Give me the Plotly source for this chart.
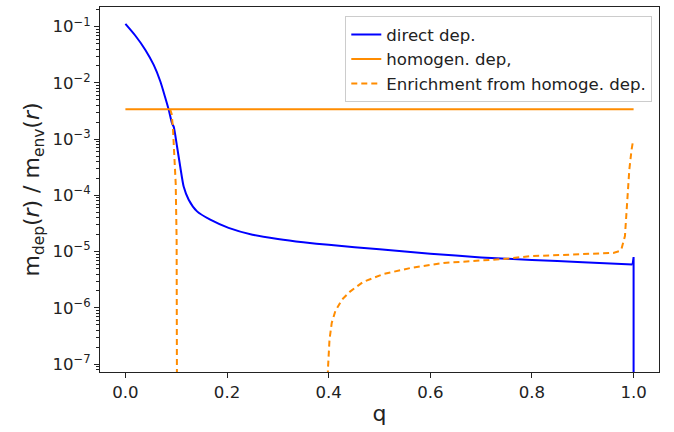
import plotly.graph_objects as go

# direct deposition (smooth part)
q_direct = [0.0, 0.0197, 0.0393, 0.0557, 0.0688, 0.0786, 0.085, 0.0918, 0.095, 0.1016,
            0.108, 0.1146, 0.1245, 0.141, 0.167, 0.203, 0.25, 0.3, 0.35, 0.4, 0.5,
            0.6, 0.7, 0.8, 0.9, 0.998]
m_direct = [0.112, 0.069, 0.0386, 0.0209, 0.0106, 0.0054, 0.0034, 0.0019, 1.67e-3, 7.4e-4,
            3.2e-4, 1.44e-4, 8.4e-5, 5.2e-5, 3.7e-5, 2.65e-5, 2.0e-5, 1.68e-5, 1.47e-5,
            1.32e-5, 1.1e-5, 9.2e-6, 7.9e-6, 7.1e-6, 6.5e-6, 5.9e-6]
# direct deposition (edge drop at q = 1)
q_direct_edge = [0.998, 1.0, 1.0]
m_direct_edge = [5.9e-6, 8.0e-6, 1e-10]

# homogeneous deposition
q_homog = [0.0, 1.0]
m_homog = [3.4e-3, 3.4e-3]

# enrichment from homogeneous deposition (two branches)
q_enrich = [0.088, 0.091, 0.0935, 0.0963, 0.099, 0.1008, 0.1015, 0.1018, None,
            0.3975, 0.3985, 0.4016, 0.406, 0.413, 0.426, 0.442, 0.468, 0.508, 0.56, 0.626,
            0.691, 0.744, 0.796, 0.894, 0.96, 0.972, 0.976, 0.983, 0.9876, 0.9915, 0.996,
            0.9993]
m_enrich = [3.4e-3, 2.8e-3, 1.6e-3, 5e-4, 1.6e-4, 1.6e-5, 1e-6, 1e-9, None,
            1e-9, 8e-8, 2.7e-7, 5.4e-7, 8.7e-7, 1.4e-6, 1.95e-6, 2.9e-6, 4.0e-6, 5.1e-6,
            6.3e-6, 6.9e-6, 7.4e-6, 8.3e-6, 9.1e-6, 9.5e-6, 1.02e-5, 1.1e-5, 1.9e-5, 7.2e-5,
            2.8e-4, 6.5e-4, 9.8e-4]

x_ticks = [0.0, 0.2, 0.4, 0.6, 0.8, 1.0]
x_ticklabels = ["0.0", "0.2", "0.4", "0.6", "0.8", "1.0"]
y_ticks = [1e-7, 1e-6, 1e-5, 1e-4, 1e-3, 1e-2, 1e-1]
y_ticklabels = ["10<sup>\u22127</sup>", "10<sup>\u22126</sup>", "10<sup>\u22125</sup>",
                "10<sup>\u22124</sup>", "10<sup>\u22123</sup>", "10<sup>\u22122</sup>",
                "10<sup>\u22121</sup>"]

FONT = "DejaVu Sans"

fig = go.Figure()
fig.add_trace(go.Scatter(x=q_direct, y=m_direct, mode="lines", name="direct dep.",
                         legendgroup="direct",
                         line=dict(color="#0000ff", width=2, shape="spline", smoothing=0.6)))
fig.add_trace(go.Scatter(x=q_direct_edge, y=m_direct_edge, mode="lines", name="direct dep.",
                         legendgroup="direct", showlegend=False,
                         line=dict(color="#0000ff", width=2)))
fig.add_trace(go.Scatter(x=q_homog, y=m_homog, mode="lines", name="homogen. dep,",
                         line=dict(color="#ff8c00", width=2)))
fig.add_trace(go.Scatter(x=q_enrich, y=m_enrich, mode="lines",
                         name="Enrichment from homoge. dep.", connectgaps=False,
                         line=dict(color="#ff8c00", width=2, dash="6px,4px")))

fig.update_layout(
    width=674, height=432,
    margin=dict(l=100, r=15, t=7, b=60),
    paper_bgcolor="white", plot_bgcolor="white",
    font=dict(family=FONT, size=16.6, color="#222222"),
    showlegend=True,
    legend=dict(x=0.988, y=0.975, xanchor="right", yanchor="top",
                bgcolor="rgba(255,255,255,0.8)", bordercolor="#cccccc", borderwidth=1,
                font=dict(family=FONT, size=16.6, color="#222222"), tracegroupgap=0,
                itemwidth=30),
)
fig.update_xaxes(
    range=[-0.05, 1.05], tickvals=x_ticks, ticktext=x_ticklabels,
    showgrid=False, zeroline=False, showline=True, linecolor="#222222", linewidth=1,
    mirror=True, ticks="outside", ticklen=5, tickcolor="#222222",
    tickfont=dict(size=16.6),
    title=dict(text="q", font=dict(family=FONT, size=22), standoff=4),
)
fig.update_yaxes(
    type="log", range=[-7.14, -0.65], tickvals=y_ticks, ticktext=y_ticklabels,
    showgrid=False, zeroline=False, showline=True, linecolor="#222222", linewidth=1,
    mirror=True, ticks="outside", ticklen=5, tickcolor="#222222",
    tickfont=dict(size=16.6),
    minor=dict(ticks="outside", ticklen=3, tickcolor="#222222", dtick="D1", showgrid=False),
    title=dict(text="m<sub>dep</sub>(<i>r</i>) / m<sub>env</sub>(<i>r</i>)",
               font=dict(family=FONT, size=22), standoff=6),
)

fig.write_html("out.html")
